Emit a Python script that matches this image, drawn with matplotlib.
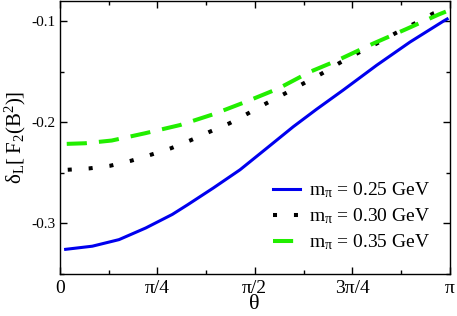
import numpy as np
import matplotlib
matplotlib.use("Agg")
import matplotlib.pyplot as plt
from matplotlib.ticker import MultipleLocator, FixedLocator

plt.rcParams['font.family'] = ['Liberation Serif', 'DejaVu Serif']
plt.rcParams['mathtext.fontset'] = 'custom'
plt.rcParams['mathtext.rm'] = 'Liberation Serif'
plt.rcParams['mathtext.it'] = 'Liberation Serif:italic'
plt.rcParams['axes.unicode_minus'] = False

# Data
theta_025 = [0.047, 0.262, 0.477, 0.692, 0.906, 1.03, 1.237, 1.452, 1.667, 1.881, 2.069, 2.284, 2.553, 2.821, 3.089, 3.12]
val_025 = [-0.3256, -0.3225, -0.3160, -0.3045, -0.2911, -0.2815, -0.2649, -0.2469, -0.2256, -0.2043, -0.187,
           -0.168, -0.1435, -0.1206, -0.1, -0.0978]

theta_030 = [0.064, 0.235, 0.404, 0.574, 0.735, 0.896, 1.049, 1.21, 1.366, 1.519, 1.667, 1.814,
             1.962, 2.11, 2.257, 2.405, 2.558, 2.709, 2.862, 3.01, 3.11]
val_030 = [-0.2469, -0.2456, -0.243, -0.238, -0.232, -0.2256, -0.218, -0.2092, -0.201, -0.191, -0.181, -0.1715,
           -0.1616, -0.1518, -0.141, -0.1312, -0.1217, -0.1115, -0.102, -0.0922, -0.0875]

theta_035 = [0.056, 0.203, 0.418, 0.687, 0.968, 1.237, 1.492, 1.760, 2.016, 2.231, 2.526, 2.794, 3.049, 3.11]
val_035 = [-0.2213, -0.2207, -0.218, -0.2108, -0.2027, -0.192, -0.180, -0.1666, -0.150, -0.139, -0.122, -0.1076, -0.0935, -0.0905]

labels = [r'm$_{\mathrm{\pi}}$ = 0.25 GeV', r'm$_{\mathrm{\pi}}$ = 0.30 GeV', r'm$_{\mathrm{\pi}}$ = 0.35 GeV']
xtick_vals = [0, np.pi/4, np.pi/2, 3*np.pi/4, np.pi]
xtick_labels = ['0', 'π/4', 'π/2', '3π/4', 'π']

fig = plt.figure(figsize=(4.57, 3.16), dpi=100)
ax = fig.add_axes([59.8/457, 1-274/316, 390/457, 273/316])

ax.plot(theta_025, val_025, color='#0000ee', lw=2.2, label=labels[0])
ax.plot(theta_030, val_030, color='black', lw=2.9, linestyle=(0, (1, 4.2)), dash_capstyle='butt', label=labels[1])
ax.plot(theta_035, val_035, color='#22ee00', lw=2.9, linestyle=(0, (5, 3)), dash_capstyle='butt', label=labels[2])

ax.set_xlim(0, np.pi)
ax.set_ylim(-0.35, -0.08)
ax.xaxis.set_major_locator(FixedLocator(xtick_vals))
ax.set_xticklabels(xtick_labels, fontsize=14)
ax.xaxis.set_minor_locator(MultipleLocator(np.pi/8))
ax.yaxis.set_major_locator(MultipleLocator(0.1))
ax.yaxis.set_minor_locator(MultipleLocator(0.05))
ax.tick_params(which='both', direction='in', top=True, right=True)
ax.tick_params(which='major', length=5, width=1)
ax.tick_params(which='minor', length=3, width=1)
ax.tick_params(axis='y', labelsize=11, pad=3)
ax.tick_params(axis='x', pad=4)
for s in ax.spines.values():
    s.set_linewidth(1)

ax.set_xlabel('θ', fontsize=16, labelpad=-1)
ax.set_ylabel(r'$\mathrm{\delta_L[\;F_2(B^2)]}$', fontsize=15)
ax.yaxis.set_label_coords(-0.082, 0.5)

leg = ax.legend(loc='lower right', bbox_to_anchor=(0.985, 0.03), frameon=False, fontsize=14,
                handlelength=1.35, handletextpad=0.5, labelspacing=0.32, borderaxespad=0.3)

fig.savefig('out.png', dpi=100)
